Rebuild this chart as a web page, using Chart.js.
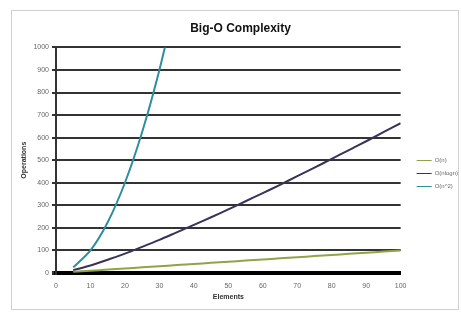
<!DOCTYPE html>
<html lang="en">
<head>
    <meta charset="UTF-8">
    <title>Big-O Complexity</title>
    <script src="https://cdn.jsdelivr.net/npm/chart.js"></script>
    <style>
        body { margin: 0; background: #fff; }
        #wrap { position: relative; width: 461px; height: 312px; }
        #frame { position: absolute; left: 11px; top: 10px; width: 446px; height: 298px; border: 1px solid #d0d0d0; }
    </style>
</head>
<body>
<div id="wrap">
    <div id="frame"></div>
    <canvas id="myChart" width="461" height="312" style="position:absolute;left:0;top:0"></canvas>
</div>
<script>
    // values
    const elements = [5, 10, 15, 20, 25, 30, 35, 40, 45, 50, 55, 60, 65, 70, 75, 80, 85, 90, 95, 100];
    const linear = [5, 10, 15, 20, 25, 30, 35, 40, 45, 50, 55, 60, 65, 70, 75, 80, 85, 90, 95, 100];
    const nlogn = [12, 33, 59, 86, 116, 147, 180, 213, 247, 282, 318, 354, 391, 429, 467, 506, 545, 584, 624, 664];
    const squared = [25, 100, 225, 400, 625, 900, 1225];
    const seriesNames = ['O(n)', 'O(nlogn)', 'O(n^2)'];
    const yTicks = [0, 100, 200, 300, 400, 500, 600, 700, 800, 900, 1000];

    function pts(ys) {
        return ys.map((y, i) => ({ x: elements[i], y: y }));
    }

    // nudge title and legend to where the original Excel chart had them
    const nudge = {
        id: 'nudge',
        afterLayout(chart) {
            chart.titleBlock.left += 5;
            chart.titleBlock.right += 5;
            chart.legend.left += 9;
            chart.legend.right += 9;
            chart.legend.top += 18;
            chart.legend.bottom += 18;
        }
    };

    const font = 'Liberation Sans';

    const config = {
        type: 'line',
        data: {
            datasets: [{
                label: seriesNames[0],
                borderColor: '#8fa448',
                backgroundColor: '#8fa448',
                data: pts(linear)
            }, {
                label: seriesNames[1],
                borderColor: '#3b3259',
                backgroundColor: '#3b3259',
                data: pts(nlogn)
            }, {
                label: seriesNames[2],
                borderColor: '#2f8e9c',
                backgroundColor: '#2f8e9c',
                data: pts(squared)
            }]
        },
        options: {
            responsive: false,
            animation: false,
            layout: { padding: { left: 12, top: 7, right: 2, bottom: 8 } },
            elements: {
                point: { radius: 0 },
                line: { borderWidth: 2, tension: 0.3 }
            },
            plugins: {
                title: {
                    display: true,
                    text: 'Big-O Complexity',
                    color: '#111',
                    font: { family: font, size: 12, weight: 'bold' },
                    padding: { top: 14, bottom: 12 }
                },
                legend: {
                    position: 'right',
                    labels: {
                        usePointStyle: true,
                        pointStyle: 'line',
                        pointStyleWidth: 15,
                        color: '#666',
                        font: { family: font, size: 6 },
                        padding: 7
                    }
                },
                tooltip: { enabled: false }
            },
            scales: {
                x: {
                    type: 'linear',
                    min: 0,
                    max: 100,
                    ticks: { stepSize: 10, color: '#666', padding: 1, font: { family: font, size: 7 } },
                    grid: { display: false },
                    border: { display: true, color: '#000', width: 4 },
                    title: { display: true, text: 'Elements', color: '#333', font: { family: font, size: 7, weight: 'bold' }, padding: 3 },
                    afterFit(scale) { scale.height = 31; }
                },
                y: {
                    min: 0,
                    max: 1000,
                    afterBuildTicks(scale) { scale.ticks = yTicks.map(v => ({ value: v })); },
                    ticks: { color: '#666', font: { family: font, size: 7 }, padding: 3, callback: v => String(v) },
                    grid: {
                        color: '#333',
                        lineWidth: ctx => ctx.tick && ctx.tick.value === 0 ? 4 : 2,
                        tickLength: 4
                    },
                    border: { display: true, color: '#333', width: 2 },
                    title: { display: true, text: 'Operations', color: '#333', font: { family: font, size: 7, weight: 'bold' }, padding: { top: 8, bottom: 0 } },
                    afterFit(scale) { scale.width = 44; }
                }
            }
        },
        plugins: [nudge]
    };

    new Chart(document.getElementById('myChart'), config);
</script>
</body>
</html>
